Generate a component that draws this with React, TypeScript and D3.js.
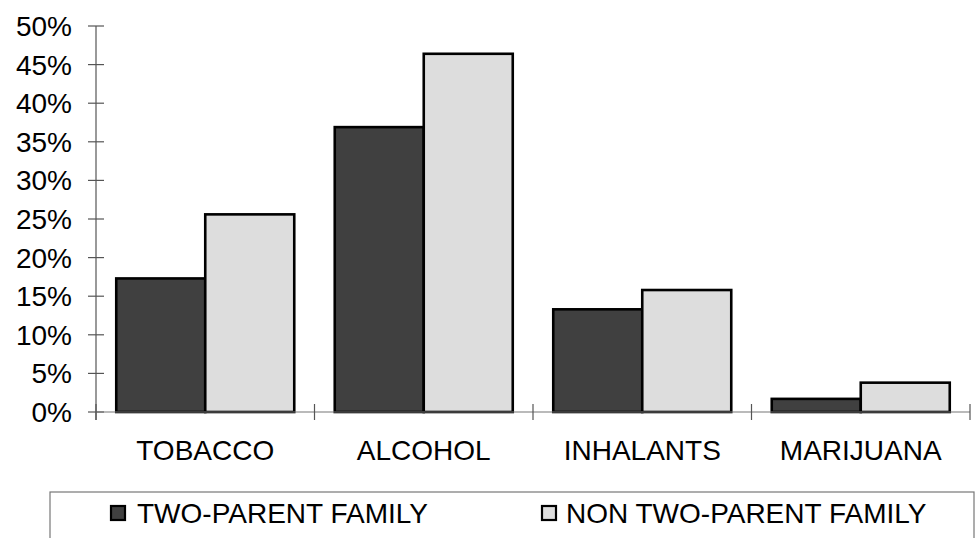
import React from "react";
import * as d3 from "d3";

const categories = ["TOBACCO", "ALCOHOL", "INHALANTS", "MARIJUANA"];
const seriesNames = ["TWO-PARENT FAMILY", "NON TWO-PARENT FAMILY"];
const twoParent = [0.173, 0.369, 0.133, 0.017];
const nonTwoParent = [0.256, 0.464, 0.158, 0.038];
const yTicks = [0, 0.05, 0.1, 0.15, 0.2, 0.25, 0.3, 0.35, 0.4, 0.45, 0.5];
const colors = ["#404040", "#dddddd"];

const W = 975;
const H = 538;
const FONT = "'Liberation Sans', Arial, sans-serif";

export default function App() {
  const x0 = d3.scaleBand<string>().domain(categories).range([96, 970]).paddingInner(0).paddingOuter(0);
  const x1 = d3
    .scaleBand<string>()
    .domain(seriesNames)
    .range([0, x0.bandwidth()])
    .paddingInner(0)
    .paddingOuter(0.2275);
  const y = d3.scaleLinear().domain([0, 0.5]).range([412, 26]);
  const series = [twoParent, nonTwoParent];
  const fmt = d3.format(".0%");

  const legendItems = [
    { name: seriesNames[0], sq: 110, tx: 137 },
    { name: seriesNames[1], sq: 541, tx: 566 },
  ];

  return (
    <svg
      width={W}
      height={H}
      style={{ position: "absolute", left: 0, top: 0, background: "#fff" }}
      fontFamily={FONT}
    >
      {/* bars */}
      {categories.map((c, i) => (
        <g key={c} transform={`translate(${x0(c)},0)`}>
          {seriesNames.map((s, j) => {
            const v = series[j][i];
            return (
              <rect
                key={s}
                x={x1(s)}
                y={y(v)}
                width={x1.bandwidth()}
                height={y(0) - y(v)}
                fill={colors[j]}
                stroke="#000"
                strokeWidth={2.6}
              />
            );
          })}
        </g>
      ))}

      {/* y axis */}
      <line x1={96} x2={96} y1={26} y2={420} stroke="#555" strokeWidth={1.2} />
      {yTicks.map((t) => (
        <g key={t}>
          <line x1={88} x2={104} y1={y(t)} y2={y(t)} stroke="#555" strokeWidth={1.2} />
          <text x={72} y={y(t) + 10} textAnchor="end" fontSize={28} fill="#000">
            {fmt(t)}
          </text>
        </g>
      ))}

      {/* x axis */}
      <line x1={96} x2={970} y1={y(0)} y2={y(0)} stroke="#777" strokeWidth={1.2} />
      {[...categories.map((c) => x0(c) as number), 970].map((xv, i) => (
        <line key={i} x1={xv} x2={xv} y1={404} y2={420} stroke="#555" strokeWidth={1.2} />
      ))}
      {categories.map((c) => (
        <text
          key={c}
          x={(x0(c) as number) + x0.bandwidth() / 2}
          y={460}
          textAnchor="middle"
          fontSize={28}
          fill="#000"
        >
          {c}
        </text>
      ))}

      {/* legend */}
      <rect x={50} y={492} width={924} height={60} fill="none" stroke="#777" strokeWidth={1.2} />
      {legendItems.map((it, j) => (
        <g key={it.name}>
          <rect x={it.sq + 1} y={506} width={14} height={14} fill={colors[j]} stroke="#000" strokeWidth={2.2} />
          <text x={it.tx} y={523} fontSize={28} fill="#000">
            {it.name}
          </text>
        </g>
      ))}
    </svg>
  );
}
